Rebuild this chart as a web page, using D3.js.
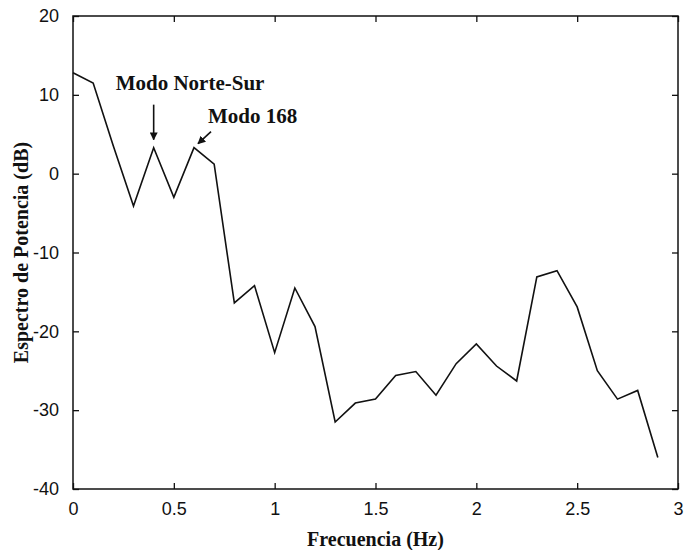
<!DOCTYPE html>
<meta charset="utf-8">
<style>
body { margin: 0; background: #fff; }
.tick text { font: 18px Arial, "Liberation Sans", sans-serif; fill: #111; }
.label, .note { font-family: "Liberation Serif", "Times New Roman", serif; font-weight: bold; fill: #111; }
path.line { stroke: #111; stroke-width: 1.6; fill: none; }
</style>
<body>
<script src="https://d3js.org/d3.v7.min.js"></script>
<script>
// Set the dimensions of the canvas / graph
var margin = {top: 16, right: 7, bottom: 61, left: 73},
    width = 685 - margin.left - margin.right,
    height = 550 - margin.top - margin.bottom;

// Frequencies (Hz) and power spectrum (dB)
var freq = [0, 0.1, 0.2, 0.3, 0.4, 0.5, 0.6, 0.7, 0.8, 0.9,
            1.0, 1.1, 1.2, 1.3, 1.4, 1.5, 1.6, 1.7, 1.8, 1.9,
            2.0, 2.1, 2.2, 2.3, 2.4, 2.5, 2.6, 2.7, 2.8, 2.9];
var power = [12.8, 11.5, 3.5, -4.1, 3.3, -3.0, 3.3, 1.2, -16.4, -14.2,
             -22.7, -14.5, -19.4, -31.5, -29.1, -28.6, -25.6, -25.1, -28.1, -24.1,
             -21.6, -24.4, -26.3, -13.1, -12.3, -16.9, -25.0, -28.6, -27.5, -36.0];
var xTicks = [0, 0.5, 1, 1.5, 2, 2.5, 3];
var yTicks = [-40, -30, -20, -10, 0, 10, 20];

var data = freq.map(function(f, i) { return {f: f, p: power[i]}; });

var x = d3.scaleLinear().domain([0, 3]).range([0, width]);
var y = d3.scaleLinear().domain([-40, 20]).range([height, 0]);

var svg = d3.select("body")
    .append("svg")
        .attr("width", 685)
        .attr("height", 550)
    .append("g")
        .attr("transform", "translate(" + margin.left + "," + margin.top + ")");

// plain hyphen minus like the original figure
var plain = function(d) { return String(d); };

// axes, ticks pointing inward on all four sides
function styleAxis(g) {
    g.select(".domain").remove();
    g.selectAll(".tick line").attr("stroke", "#111").attr("stroke-width", 1.3);
}
svg.append("g")
    .attr("transform", "translate(0," + height + ")")
    .call(d3.axisBottom(x).tickValues(xTicks).tickSizeInner(-6).tickPadding(13)
        .tickFormat(plain))
    .call(styleAxis);
svg.append("g")
    .call(d3.axisTop(x).tickValues(xTicks).tickSizeInner(-6).tickFormat(""))
    .call(styleAxis);
svg.append("g")
    .call(d3.axisLeft(y).tickValues(yTicks).tickSizeInner(-6).tickPadding(14)
        .tickFormat(plain))
    .call(styleAxis);
svg.append("g")
    .attr("transform", "translate(" + width + ",0)")
    .call(d3.axisRight(y).tickValues(yTicks).tickSizeInner(-6).tickFormat(""))
    .call(styleAxis);
svg.selectAll(".tick text").attr("font-size", null).attr("font-family", null);

// frame
svg.append("rect")
    .attr("width", width)
    .attr("height", height)
    .attr("fill", "none")
    .attr("stroke", "#111")
    .attr("stroke-width", 1.5);

// spectrum line
var valueline = d3.line()
    .x(function(d) { return x(d.f); })
    .y(function(d) { return y(d.p); });
svg.append("path")
    .attr("class", "line")
    .attr("d", valueline(data));

// axis labels
svg.append("text")
    .attr("class", "label")
    .attr("x", width / 2)
    .attr("y", height + 57)
    .attr("text-anchor", "middle")
    .style("font-size", "20px")
    .text("Frecuencia (Hz)");
svg.append("text")
    .attr("class", "label")
    .attr("transform", "translate(" + (-45) + "," + (height / 2) + ") rotate(-90)")
    .attr("text-anchor", "middle")
    .style("font-size", "20px")
    .text("Espectro de Potencia (dB)");

// annotations
svg.append("defs").append("marker")
    .attr("id", "head")
    .attr("viewBox", "0 0 10 10")
    .attr("refX", 9).attr("refY", 5)
    .attr("markerWidth", 5).attr("markerHeight", 5)
    .attr("orient", "auto")
  .append("path")
    .attr("d", "M0,0 L10,5 L0,10 z")
    .attr("fill", "#111");

var ns = data[4], m168 = data[6];
svg.append("line")
    .attr("x1", x(ns.f)).attr("y1", y(ns.p) - 43)
    .attr("x2", x(ns.f)).attr("y2", y(ns.p) - 8)
    .attr("stroke", "#111").attr("stroke-width", 1.6)
    .attr("marker-end", "url(#head)");
svg.append("text")
    .attr("class", "note")
    .attr("x", x(ns.f) - 38)
    .attr("y", 74)
    .style("font-size", "21px")
    .text("Modo Norte-Sur");

svg.append("line")
    .attr("x1", x(m168.f) + 17).attr("y1", y(m168.p) - 16)
    .attr("x2", x(m168.f) + 4).attr("y2", y(m168.p) - 4)
    .attr("stroke", "#111").attr("stroke-width", 1.6)
    .attr("marker-end", "url(#head)");
svg.append("text")
    .attr("class", "note")
    .attr("x", x(m168.f) + 14)
    .attr("y", 107)
    .style("font-size", "21px")
    .text("Modo 168");
</script>
</body>
